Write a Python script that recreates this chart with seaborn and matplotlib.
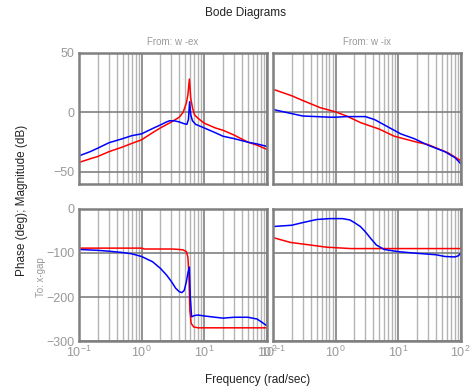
import matplotlib
matplotlib.use("Agg")
import matplotlib.pyplot as plt
import matplotlib.ticker as mticker
import seaborn as sns
import numpy as np

# --- Data (freq in rad/sec) ---
# From: w -ex, magnitude (dB)
mag_ex_blue_f = [0.1, 0.15, 0.2, 0.3, 0.5, 0.7, 1, 1.5, 2, 2.5, 2.8, 3.3, 4, 4.8, 5.3, 5.6, 5.85, 6.1, 6.5, 7.3, 10, 15, 20, 30, 50, 70, 100]
mag_ex_blue = [-36.5, -33, -30, -25.5, -22, -19.5, -18, -13.5, -10.5, -8, -7, -7, -8, -9.5, -10, -6, 9, -2, -7, -10, -13, -17, -20, -22, -25, -26.5, -28.5]
mag_ex_red_f = [0.1, 0.15, 0.2, 0.3, 0.5, 0.7, 1, 1.5, 2, 3, 4, 4.6, 5.2, 5.5, 5.8, 6.1, 6.5, 7, 8, 10, 15, 20, 30, 50, 70, 100]
mag_ex_red = [-42, -39, -37, -33, -29, -26, -23, -17, -13, -8, -4, 0, 8, 15, 28, 12, 4, -2, -5, -9, -13, -15, -19, -25, -27.5, -31]

# From: w -ix, magnitude (dB)
mag_ix_blue_f = [0.1, 0.2, 0.3, 0.5, 0.8, 1, 1.5, 2, 3, 4.2, 6.8, 11, 18, 30, 56, 81, 100]
mag_ix_blue = [2.5, -1, -3, -3.5, -4, -4, -3.5, -3.5, -3.5, -6, -12, -18, -22, -27.5, -33, -38, -43]
mag_ix_red_f = [0.1, 0.2, 0.3, 0.57, 1, 1.5, 2.5, 5, 8.7, 20, 30, 63, 100]
mag_ix_red = [19.5, 14, 10, 4, 0.5, -3, -8.5, -14, -20, -25, -27, -34, -40.5]

# From: w -ex, phase (deg)
ph_ex_blue_f = [0.1, 0.2, 0.3, 0.5, 0.7, 1, 1.5, 2, 2.5, 3, 3.5, 4, 4.4, 4.8, 5.2, 5.5, 5.8, 6.0, 6.3, 7, 8, 10, 15, 20, 30, 50, 70, 100]
ph_ex_blue = [-92, -94, -96, -99, -102, -108, -120, -135, -150, -165, -180, -188, -190, -185, -165, -145, -132, -200, -245, -242, -241, -243, -246, -248, -246, -246, -250, -265]
ph_ex_red_f = [0.1, 0.5, 1, 1.1, 2, 3, 4, 4.6, 5.2, 5.5, 5.7, 5.9, 6.2, 6.8, 8, 10, 100]
ph_ex_red = [-89, -89, -89, -91, -91, -91, -92, -93, -97, -110, -150, -230, -260, -268, -270, -270, -270]

# From: w -ix, phase (deg)
ph_ix_blue_f = [0.1, 0.2, 0.3, 0.5, 0.8, 1.3, 1.7, 2, 2.5, 3, 3.7, 4.5, 6, 10, 21, 40, 56, 80, 90, 100]
ph_ix_blue = [-40, -37, -31, -24, -22, -22, -25, -31, -40, -52, -68, -82, -92, -97, -101, -104, -108, -109, -107, -101]
ph_ix_red_f = [0.1, 0.19, 0.4, 0.73, 1, 1.74, 3, 10, 100]
ph_ix_red = [-65, -76, -82, -87, -88, -90, -90, -90, -90]

col_titles = ["From: w -ex", "From: w -ix"]
mag_ticks = [50, 0, -50]
ph_ticks = [0, -100, -200, -300]

sns.set_theme(style="white")
plt.rcParams['font.family'] = ['Liberation Sans', 'DejaVu Sans']

fig = plt.figure(figsize=(4.73, 3.92), dpi=100)
lefts = [0.167, 0.577]
width = 0.397
ax_tl = fig.add_axes([lefts[0], 0.531, width, 0.334])
ax_tr = fig.add_axes([lefts[1], 0.531, width, 0.334])
ax_bl = fig.add_axes([lefts[0], 0.130, width, 0.337])
ax_br = fig.add_axes([lefts[1], 0.130, width, 0.337])

panels = [
    (ax_tl, mag_ex_blue_f, mag_ex_blue, mag_ex_red_f, mag_ex_red),
    (ax_tr, mag_ix_blue_f, mag_ix_blue, mag_ix_red_f, mag_ix_red),
    (ax_bl, ph_ex_blue_f, ph_ex_blue, ph_ex_red_f, ph_ex_red),
    (ax_br, ph_ix_blue_f, ph_ix_blue, ph_ix_red_f, ph_ix_red),
]

grey_txt = "#999999"
for ax, bf, bv, rf, rv in panels:
    sns.lineplot(x=rf, y=rv, ax=ax, color="#ff0000", linewidth=1.1, sort=False)
    sns.lineplot(x=bf, y=bv, ax=ax, color="#0000ff", linewidth=1.1, sort=False)
    ax.set_xscale("log")
    ax.set_xlim(0.1, 100)
    ax.xaxis.set_major_locator(mticker.LogLocator(base=10, numticks=10))
    ax.xaxis.set_minor_locator(mticker.LogLocator(base=10, subs=np.arange(2, 10), numticks=20))
    ax.grid(True, which="major", color="#808080", linewidth=1.2)
    ax.grid(True, which="minor", axis="x", color="#b4b4b4", linewidth=1.0)
    ax.set_axisbelow(True)
    for s in ax.spines.values():
        s.set_color("#808080")
        s.set_linewidth(1.8)
    ax.tick_params(axis="both", which="both", length=0, labelsize=9, colors=grey_txt, pad=3)
    ax.set_xlabel("")
    ax.set_ylabel("")

for ax in (ax_tl, ax_tr):
    ax.set_ylim(-60, 50)
    ax.set_yticks(mag_ticks)
    ax.tick_params(axis="x", labelbottom=False)
for ax in (ax_bl, ax_br):
    ax.set_ylim(-300, 0)
    ax.set_yticks(ph_ticks)
for ax in (ax_tr, ax_br):
    ax.tick_params(axis="y", labelleft=False)

ax_tl.set_title(col_titles[0], fontsize=7, color=grey_txt, pad=6)
ax_tr.set_title(col_titles[1], fontsize=7, color=grey_txt, pad=6)

fig.text(0.518, 0.967, "Bode Diagrams", ha="center", va="center", fontsize=8.5, color="#222222")
fig.text(0.545, 0.03, "Frequency (rad/sec)", ha="center", va="center", fontsize=8.5, color="#222222")
fig.text(0.047, 0.49, "Phase (deg); Magnitude (dB)", ha="center", va="center", rotation=90, fontsize=8.5, color="#222222")
fig.text(0.087, 0.293, "To: x-gap", ha="center", va="center", rotation=90, fontsize=7, color=grey_txt)

fig.savefig("out.png", dpi=100)
